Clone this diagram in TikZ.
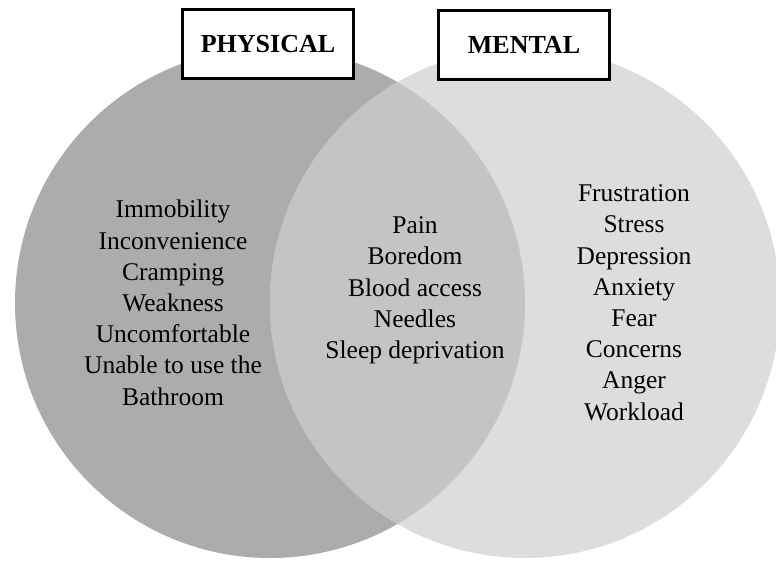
\documentclass[tikz,border=0pt]{standalone}
\usepackage{fontspec}
\setmainfont{Liberation Serif}
\definecolor{physfill}{RGB}{174,171,171}
\definecolor{bothfill}{RGB}{197,195,196}
\definecolor{mentfill}{RGB}{221,221,221}
\begin{document}
\begin{tikzpicture}[x=1pt,y=-1pt,
  listtext/.style={align=center,inner sep=0pt,anchor=base,
    font=\fontsize{25.5}{31.2}\selectfont},
  headbox/.style={draw=black,fill=white,line width=3pt,
    minimum width=171pt,minimum height=69pt,inner sep=0pt,
    font=\bfseries\fontsize{26}{30}\selectfont}]
  \useasboundingbox (0,0) rectangle (776,562);
  % the two sets
  \coordinate (cP) at (270,303);
  \coordinate (cM) at (525,303);
  \fill[physfill] (cP) circle[radius=255];
  \fill[mentfill] (cM) circle[radius=255];
  \begin{scope}
    \clip (cP) circle[radius=255];
    \fill[bothfill] (cM) circle[radius=255];
  \end{scope}
  % category labels
  \node[headbox] (phys) at (268,44) {PHYSICAL};
  \node[headbox] (ment) at (524,45) {MENTAL};
  % set members (each node sits on the baseline of its last line)
  \node[listtext] (physlist) at (173,405) {Immobility\\Inconvenience\\Cramping\\Weakness\\Uncomfortable\\Unable to use the\\Bathroom};
  \node[listtext] (bothlist) at (415,358.5) {Pain\\Boredom\\Blood access\\Needles\\Sleep deprivation};
  \node[listtext] (mentlist) at (634,420) {Frustration\\Stress\\Depression\\Anxiety\\Fear\\Concerns\\Anger\\Workload};
\end{tikzpicture}
\end{document}
